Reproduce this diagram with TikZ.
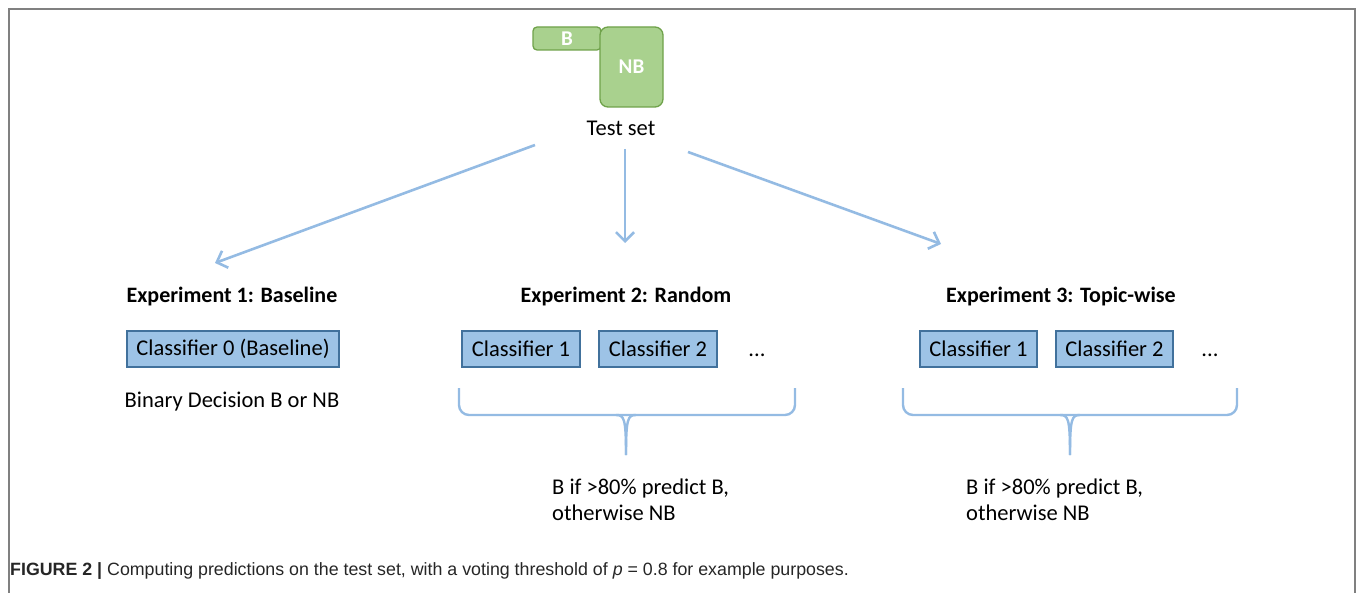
\documentclass[tikz,border=0pt]{standalone}
\usepackage{fontspec}
\setmainfont{Carlito}
\newfontfamily\capfont{Liberation Sans}
\usetikzlibrary{arrows.meta}
\definecolor{setfill}{HTML}{A9D18E}
\definecolor{setline}{HTML}{6FA24A}
\definecolor{clsfill}{HTML}{9DC3E6}
\definecolor{clsline}{HTML}{41719C}
\definecolor{flowblue}{HTML}{94BBE3}
\definecolor{framegray}{HTML}{808080}
\tikzset{
  setbox/.style={draw=setline, fill=setfill, line width=1.3, text=white,
    font=\bfseries\fontsize{21}{24}\selectfont, inner sep=0},
  clsbox/.style={draw=clsline, fill=clsfill, line width=1.2,
    minimum height=36, inner sep=0, font=\fontsize{22.5}{26}\selectfont},
  heading/.style={font=\bfseries\fontsize{22}{26}\selectfont},
  plain/.style={font=\fontsize{22.5}{26}\selectfont},
  flow/.style={draw=flowblue, line width=2.6,
    -{Straight Barb[length=9, width=18, line width=2.6]}},
  vote/.style={draw=flowblue, line width=2.4, rounded corners=10},
  rule/.style={font=\fontsize{22.5}{25.5}\selectfont, align=left, anchor=north west, inner sep=0},
}
\begin{document}
\begin{tikzpicture}[x=1pt, y=-1pt]
\useasboundingbox (0,0) rectangle (1362,593);
% frame open at the bottom
\draw[framegray, line width=2] (9,593) -- (9,9) -- (1355,9) -- (1355,593);

% test set split into B and NB
\node[setbox, rounded corners=4, minimum width=68, minimum height=23] (B) at (567,38.5) {B};
\node[setbox, rounded corners=8, minimum width=63, minimum height=80] (NB) at (631.5,67) {NB};
\node[plain] (test) at (621,128) {Test set};

% three experiments
\node[heading] (e1) at (232,297) {Experiment 1: Baseline};
\node[heading] (e2) at (626,297) {Experiment 2: Random};
\node[heading] (e3) at (1061,297) {Experiment 3: Topic-wise};

\coordinate (s1) at (535,145);
\coordinate (s2) at (625,149);
\coordinate (s3) at (688,152);
\coordinate (t1) at (215,263);
\coordinate (t2) at (625,243);
\coordinate (t3) at (941,244);
\draw[flow] (s1) -- (t1);
\draw[flow] (s2) -- (t2);
\draw[flow] (s3) -- (t3);

% classifiers
\node[clsbox, minimum width=212] (c0) at (233,349) {Classifier 0 (Baseline)};
\node[clsbox, minimum width=118] (c21) at (521,349) {Classifier 1};
\node[clsbox, minimum width=118] (c22) at (658,349) {Classifier 2};
\node[plain] (d2) at (757,355) {...};
\node[clsbox, minimum width=117] (c31) at (978.5,349) {Classifier 1};
\node[clsbox, minimum width=117] (c32) at (1114.5,349) {Classifier 2};
\node[plain] (d3) at (1210,355) {...};

\node[plain] (bin) at (232,402) {Binary Decision B or NB};

% voting braces
\coordinate (b2l) at (459,388);
\coordinate (b2r) at (795,388);
\coordinate (b2t) at (626,455);
\draw[vote] (b2l) -- (459,415) -- (626,415);
\draw[vote] (b2r) -- (795,415) -- (626,415);
\draw[flowblue, line width=2.4] (616,415) .. controls (624,415) and (626,418) .. (b2t);
\draw[flowblue, line width=2.4] (636,415) .. controls (628,415) and (626,418) .. (b2t);

\coordinate (b3l) at (903,388);
\coordinate (b3r) at (1237,388);
\coordinate (b3t) at (1070,455);
\draw[vote] (b3l) -- (903,415) -- (1070,415);
\draw[vote] (b3r) -- (1237,415) -- (1070,415);
\draw[flowblue, line width=2.4] (1060,415) .. controls (1068,415) and (1070,418) .. (b3t);
\draw[flowblue, line width=2.4] (1080,415) .. controls (1072,415) and (1070,418) .. (b3t);

\node[rule] (r2) at (552,479) {B if >80\% predict B,\\otherwise NB};
\node[rule] (r3) at (966,479) {B if >80\% predict B,\\otherwise NB};

% caption
\node[anchor=west, inner sep=0, font=\capfont\fontsize{17.8}{20}\selectfont, text=black!85] (cap) at (10,571)
  {\textbf{FIGURE 2 |} Computing predictions on the test set, with a voting threshold of \textit{p} = 0.8 for example purposes.};
\end{tikzpicture}
\end{document}
